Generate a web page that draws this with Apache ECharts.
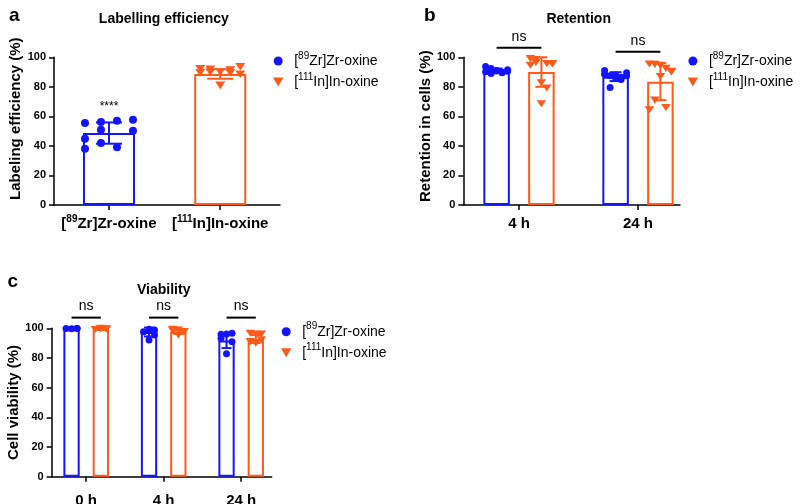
<!DOCTYPE html>
<html><head><meta charset="utf-8">
<script src="https://cdn.jsdelivr.net/npm/echarts@6/dist/echarts.min.js"></script>
<style>html,body{margin:0;padding:0;background:#fff}#chart{width:800px;height:504px}</style>
</head><body><div id="chart"></div>
<script>
// ---------------- DATA ----------------
const seriesNames = ['[89Zr]Zr-oxine', '[111In]In-oxine'];

// Panel a: Labelling efficiency
const catsA = ['[89Zr]Zr-oxine', '[111In]In-oxine'];
const meanA = [48.7, 88.7];
const sdA = [7.2, 3.2];
const ptsA_Zr = [55.5, 56.2, 57.1, 57.8, 44.9, 51.0, 39.1, 50.3, 38.1, 42.0];
const ptsA_In = [92.3, 91.9, 81.0, 91.4, 93.6, 89.6, 90.0, 90.0, 89.6, 88.5];
const starLabelA = '****';
const starLevelA = 59.5;

// Panel b: Retention
const catsB = ['4 h', '24 h'];
const meanB_Zr = [90.9, 86.9];
const sdB_Zr = [1.5, 3.0];
const meanB_In = [90.0, 83.5];
const sdB_In = [10.0, 12.5];
const ptsB_Zr_4h = [93.8, 92.5, 91.0, 89.5, 91.5, 90.2, 89.0, 90.8, 89.8, 90.5];
const ptsB_Zr_24h = [88.5, 87.5, 86.0, 85.0, 89.5, 91.0, 79.5, 88.0, 86.5, 87.5];
const ptsB_In_4h = [99.1, 98.5, 82.8, 95.7, 95.5, 94.6, 96.5, 68.6, 79.2, 95.7];
const ptsB_In_24h = [95.5, 95.2, 94.5, 92.5, 90.5, 64.5, 71.0, 87.0, 66.0, 90.0];
const sigLabelsB = ['ns', 'ns'];
const sigLevelsB = [106.5, 103.8];

// Panel c: Viability
const catsC = ['0 h', '4 h', '24 h'];
const meanC_Zr = [99.9, 97.5, 91.7];
const sdC_Zr = [0.4, 3.0, 5.0];
const meanC_In = [99.6, 97.6, 92.8];
const sdC_In = [0.5, 1.4, 2.7];
const ptsC_Zr_0h = [100.2, 99.7, 100.0, 99.8, 100.3, 99.9];
const ptsC_Zr_4h = [100.4, 99.3, 98.9, 97.7, 92.2, 95.5];
const ptsC_Zr_24h = [96.0, 96.2, 96.7, 93.3, 82.8, 91.0];
const ptsC_In_0h = [100.2, 99.8, 99.5, 99.2, 100.0, 99.7];
const ptsC_In_4h = [99.3, 98.9, 97.8, 98.4, 95.5, 97.5];
const ptsC_In_24h = [96.7, 96.2, 96.2, 91.0, 90.0, 92.2];
const sigLabelsC = ['ns', 'ns', 'ns'];
const sigLevelsC = [107.2, 107.2, 107.2];

const yTicks = { min: 0, max: 100, interval: 20 };
const titles = ['Labelling efficiency', 'Retention', 'Viability'];
const yNames = ['Labeling efficiency (%)', 'Retention in cells (%)', 'Cell viability (%)'];
const panelLetters = ['a', 'b', 'c'];

// ---------------- STYLE / LAYOUT ----------------
const FONT = '"Liberation Sans", Arial, Helvetica, sans-serif';
const BLUE = '#1414FF';
const ORANGE = '#FF5A1A';
const TRI = 'path://M0,0L10,0L5,8.66Z';

const P = [
  {left: 54, top: 57.3, width: 226, height: 147.7, xMin: -0.494, xMax: 1.537, barW: 52, gapPx: 0,
   cap: 13, cols: {Zr: 4, In: 5}, halfPx: {Zr: 24, In: 20}, circ: 8, tri: [10, 8.7], labelMargin: 9,
   namePad: [0, 0, 0, 25], nameGap: 31, legend: {left: 273, top: 51}},
  {left: 463.3, top: 57.3, width: 216.7, height: 147.7, xMin: -0.468, xMax: 1.353, barW: 26.5, gapPx: 18.3,
   cap: 6, cols: {Zr: 5, In: 5}, halfPx: {Zr: 11, In: 11}, circ: 7, tri: [9.5, 8.2], labelMargin: 9,
   namePad: [0, 0, 0, 10], nameGap: 28, legend: {left: 687.7, top: 51}},
  {left: 51.7, top: 328.3, width: 220, height: 148.4, xMin: -0.445, xMax: 2.394, barW: 16.3, gapPx: 13,
   cap: 5, cols: {Zr: 3, In: 3}, halfPx: {Zr: 5.5, In: 5.5}, circ: 7, tri: [9.5, 8.2], labelMargin: 14,
   namePad: [0, 0, 0, 0], nameGap: 29, legend: {left: 281, top: 321.7}}
];
P.forEach(p => { p.ppu = p.width / (p.xMax - p.xMin); p.off = (p.barW + p.gapPx) / 2 / p.ppu; });

function supMarkup(s) { return s.replace(/^\[(\d+)/, '[{sup|$1}'); }

function jitterOffsets(n, cols, halfPx, ppu) {
  const out = [];
  for (let i = 0; i < n; i++) {
    const c = i % cols;
    out.push(cols > 1 ? (-halfPx + 2 * halfPx * c / (cols - 1)) / ppu : 0);
  }
  return out;
}
function scatterData(groups, idxs, off, cols, halfPx, ppu) {
  const out = [];
  groups.forEach((pts, gi) => {
    const offs = jitterOffsets(pts.length, cols, halfPx, ppu);
    pts.forEach((v, i) => out.push([idxs[gi] + off + offs[i], v]));
  });
  return out;
}

// ---------------- COMPONENTS ----------------
const grids = P.map(p => ({left: p.left, top: p.top, width: p.width, height: p.height,
  containLabel: false, outerBoundsMode: 'none'}));

const catsAll = [catsA, catsB, catsC];
const xAxes = P.map((p, k) => {
  const cats = catsAll[k];
  const idx = cats.map((c, i) => i);
  return {
    type: 'value', gridIndex: k, min: p.xMin, max: p.xMax,
    axisLine: {show: true, onZero: false, lineStyle: {color: '#000', width: 1.5}},
    axisTick: {show: true, length: 5, customValues: idx, lineStyle: {color: '#000', width: 1.5}},
    axisLabel: {show: true, customValues: idx, margin: p.labelMargin,
      formatter: v => supMarkup(cats[Math.round(v)]),
      color: '#000', fontFamily: FONT, fontWeight: 'bold', fontSize: 15, lineHeight: 20,
      rich: {sup: {fontSize: 10, fontWeight: 'bold', fontFamily: FONT, color: '#000', verticalAlign: 'top'}}},
    splitLine: {show: false}
  };
});
const yAxes = P.map((p, k) => ({
  type: 'value', gridIndex: k, min: yTicks.min, max: yTicks.max, interval: yTicks.interval,
  axisLine: {show: true, onZero: false, lineStyle: {color: '#000', width: 1.5}},
  axisTick: {show: true, length: 5, lineStyle: {color: '#000', width: 1.5}},
  axisLabel: {margin: 8, color: '#000', fontFamily: FONT, fontWeight: 'bold', fontSize: 11},
  splitLine: {show: false},
  name: yNames[k], nameLocation: 'middle', nameGap: p.nameGap,
  nameTextStyle: {color: '#000', fontFamily: FONT, fontWeight: 'bold', fontSize: 15, padding: p.namePad}
}));

const legends = P.map(p => ({
  orient: 'vertical', left: p.legend.left, top: p.legend.top, padding: 0,
  itemWidth: 22, itemHeight: 9, itemGap: 1, selectedMode: false,
  data: [{name: seriesNames[0], icon: 'circle'}, {name: seriesNames[1], icon: TRI}],
  formatter: supMarkup,
  textStyle: {color: '#000', fontFamily: FONT, fontSize: 14, lineHeight: 20,
    rich: {sup: {fontSize: 10, fontFamily: FONT, color: '#000', verticalAlign: 'top'}}}
}));

// ---------------- SERIES ----------------
const series = [];
function scatter(k, name, data, color, isTri) {
  const p = P[k];
  series.push({type: 'scatter', name, xAxisIndex: k, yAxisIndex: k, data, z: 3,
    symbol: isTri ? TRI : 'circle', symbolSize: isTri ? p.tri : p.circ, symbolKeepAspect: true,
    itemStyle: {color, opacity: 1}, silent: true});
}
function bars(k, data, color, gap) {
  const p = P[k];
  series.push({type: 'bar', xAxisIndex: k, yAxisIndex: k, data, barWidth: p.barW, barGap: gap, z: 2,
    itemStyle: {color: 'rgba(255,255,255,0)', borderColor: color, borderWidth: 2}, silent: true});
}
function errors(k, data, color) {
  const cap = P[k].cap;
  series.push({type: 'custom', xAxisIndex: k, yAxisIndex: k, data, clip: false, z: 4, silent: true,
    renderItem(params, api) {
      const x = api.value(0), m = api.value(1), s = api.value(2);
      const t = api.coord([x, m + s]), b = api.coord([x, m - s]);
      const st = {stroke: color, lineWidth: 2};
      return {type: 'group', children: [
        {type: 'line', shape: {x1: t[0], y1: t[1], x2: b[0], y2: b[1]}, style: st},
        {type: 'line', shape: {x1: t[0] - cap, y1: t[1], x2: t[0] + cap, y2: t[1]}, style: st},
        {type: 'line', shape: {x1: b[0] - cap, y1: b[1], x2: b[0] + cap, y2: b[1]}, style: st}
      ]};
    }});
}
function sig(k, labels, levels, halfUnits, fontSize) {
  series.push({type: 'custom', xAxisIndex: k, yAxisIndex: k, clip: false, z: 6, silent: true,
    data: labels.map((l, i) => [i, levels[i]]),
    renderItem(params, api) {
      const g = api.value(0), lv = api.value(1);
      const l = api.coord([g - halfUnits, lv]), r = api.coord([g + halfUnits, lv]);
      const ch = [];
      if (halfUnits > 0) ch.push({type: 'line', shape: {x1: l[0], y1: l[1], x2: r[0], y2: r[1]},
        style: {stroke: '#000', lineWidth: 2}});
      ch.push({type: 'text', x: (l[0] + r[0]) / 2, y: l[1] - 4,
        style: {text: labels[params.dataIndex], align: 'center', verticalAlign: 'bottom',
          textAlign: 'center', textVerticalAlign: 'bottom', fontSize, fontFamily: FONT, fill: '#000'}});
      return {type: 'group', children: ch};
    }});
}

// scatter first so legend picks their symbols
scatter(0, seriesNames[0], scatterData([ptsA_Zr], [0], 0, P[0].cols.Zr, P[0].halfPx.Zr, P[0].ppu), BLUE, false);
scatter(0, seriesNames[1], scatterData([ptsA_In], [1], 0, P[0].cols.In, P[0].halfPx.In, P[0].ppu), ORANGE, true);
scatter(1, seriesNames[0], scatterData([ptsB_Zr_4h, ptsB_Zr_24h], [0, 1], -P[1].off, P[1].cols.Zr, P[1].halfPx.Zr, P[1].ppu), BLUE, false);
scatter(1, seriesNames[1], scatterData([ptsB_In_4h, ptsB_In_24h], [0, 1], P[1].off, P[1].cols.In, P[1].halfPx.In, P[1].ppu), ORANGE, true);
scatter(2, seriesNames[0], scatterData([ptsC_Zr_0h, ptsC_Zr_4h, ptsC_Zr_24h], [0, 1, 2], -P[2].off, P[2].cols.Zr, P[2].halfPx.Zr, P[2].ppu), BLUE, false);
scatter(2, seriesNames[1], scatterData([ptsC_In_0h, ptsC_In_4h, ptsC_In_24h], [0, 1, 2], P[2].off, P[2].cols.In, P[2].halfPx.In, P[2].ppu), ORANGE, true);

// bars
bars(0, [[0, meanA[0]]], BLUE, '-100%');
bars(0, [[1, meanA[1]]], ORANGE, '-100%');
const gapB = (P[1].gapPx / P[1].barW * 100) + '%';
bars(1, meanB_Zr.map((m, i) => [i, m]), BLUE, gapB);
bars(1, meanB_In.map((m, i) => [i, m]), ORANGE, gapB);
const gapC = (P[2].gapPx / P[2].barW * 100) + '%';
bars(2, meanC_Zr.map((m, i) => [i, m]), BLUE, gapC);
bars(2, meanC_In.map((m, i) => [i, m]), ORANGE, gapC);

// error bars
errors(0, [[0, meanA[0], sdA[0]]], BLUE);
errors(0, [[1, meanA[1], sdA[1]]], ORANGE);
errors(1, meanB_Zr.map((m, i) => [i - P[1].off, m, sdB_Zr[i]]), BLUE);
errors(1, meanB_In.map((m, i) => [i + P[1].off, m, sdB_In[i]]), ORANGE);
errors(2, meanC_Zr.map((m, i) => [i - P[2].off, m, sdC_Zr[i]]), BLUE);
errors(2, meanC_In.map((m, i) => [i + P[2].off, m, sdC_In[i]]), ORANGE);

// significance
sig(0, [starLabelA], [starLevelA], 0, 12);
sig(1, sigLabelsB, sigLevelsB, P[1].off, 14);
sig(2, sigLabelsC, sigLevelsC, P[2].off, 14);

// ---------------- TITLES ----------------
function gtext(text, x, y, size, align) {
  return {type: 'text', x, y, silent: true,
    style: {text, fontSize: size, fontWeight: 'bold', fontFamily: FONT, fill: '#000',
      align, verticalAlign: 'middle', textAlign: align, textVerticalAlign: 'middle'}};
}
const graphic = [
  gtext(panelLetters[0], 9, 16, 19, 'left'),
  gtext(panelLetters[1], 424, 16, 19, 'left'),
  gtext(panelLetters[2], 7.5, 282, 19, 'left'),
  gtext(titles[0], 163.8, 18.7, 14, 'center'),
  gtext(titles[1], 578.7, 18.7, 14, 'center'),
  gtext(titles[2], 163.7, 290.4, 14, 'center')
];

const chart = echarts.init(document.getElementById('chart'), null, {renderer: 'canvas'});
chart.setOption({
  animation: false,
  backgroundColor: '#fff',
  textStyle: {fontFamily: FONT},
  grid: grids, xAxis: xAxes, yAxis: yAxes, legend: legends,
  graphic, series
});
</script></body></html>
